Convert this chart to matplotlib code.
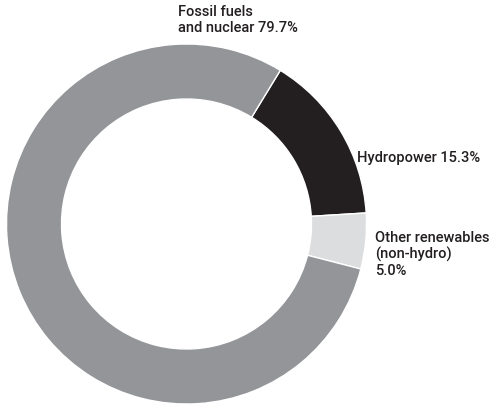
import matplotlib.pyplot as plt

# Share of generation
labels = ["Hydropower 15.3%", "Other renewables\n(non-hydro)\n5.0%", "Fossil fuels\nand nuclear 79.7%"]
shares = [15.3, 5.0, 79.7]
colors = ["#231f20", "#dcddde", "#939598"]

W, H = 495, 406
fig = plt.figure(figsize=(W / 100, H / 100), dpi=100)
ax = fig.add_axes([0, 0, 1, 1])

# donut in pixel coordinates (y up)
ax.pie(shares, colors=colors, startangle=58.6, counterclock=False,
       center=(186.5, H - 225), radius=180, frame=True,
       wedgeprops=dict(width=55, edgecolor="white", linewidth=1))
ax.set_xlim(0, W)
ax.set_ylim(0, H)
ax.set_aspect("equal")
ax.axis("off")

font = dict(family="Roboto", fontweight="medium", fontsize=10.5, color="#231f20",
            linespacing=1.15)
ax.text(178, H - 5, labels[2], ha="left", va="top", **font)
ax.text(357, H - 151, labels[0], ha="left", va="top", **font)
ax.text(375, H - 231, labels[1], ha="left", va="top", **font)

fig.savefig("out.png", dpi=100)
